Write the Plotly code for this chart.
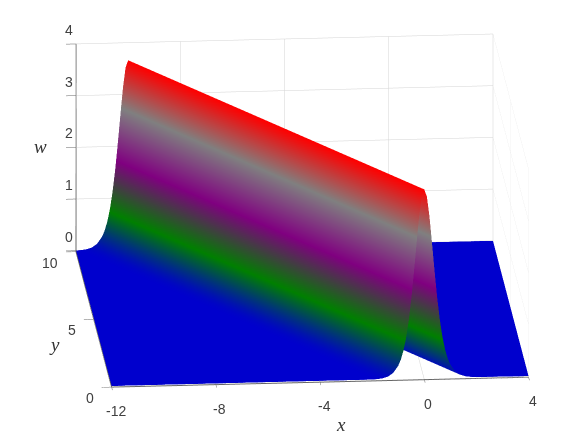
import plotly.graph_objects as go

# Ridge cross-section: offset from ridge line, height w
offsets = [-2.0, -1.8, -1.6, -1.4, -1.2, -1.0, -0.9, -0.8, -0.7, -0.6, -0.5, -0.4, -0.3, -0.2, -0.1, 0.0,
           0.1, 0.2, 0.3, 0.4, 0.5, 0.6, 0.7, 0.8, 0.9, 1.0, 1.2, 1.4, 1.6, 1.8, 2.0]
heights = [0.005, 0.011, 0.024, 0.054, 0.12, 0.26, 0.38, 0.55, 0.79, 1.12, 1.54, 2.05, 2.60, 3.13, 3.52, 3.66,
           3.52, 3.13, 2.60, 2.05, 1.54, 1.12, 0.79, 0.55, 0.38, 0.26, 0.12, 0.054, 0.024, 0.011, 0.005]
y_rows = [0, 1, 2, 3, 4, 5, 6, 7, 8, 9, 10]
ridge_x_at_row = [0, -1, -2, -3, -4, -5, -6, -7, -8, -9, -10]
x_min, x_max = -12, 4
x_ticks = [-12, -8, -4, 0, 4]
y_ticks = [0, 5, 10]
z_ticks = [0, 1, 2, 3, 4]

X = [[x_min] + [r + d for d in offsets] + [x_max] for r in ridge_x_at_row]
Y = [[yv] * (len(offsets) + 2) for yv in y_rows]
Z = [[0] + heights + [0] for _ in y_rows]

colorscale = [[0, "rgb(0,0,205)"], [0.2, "rgb(0,128,0)"], [0.47, "rgb(128,0,128)"],
              [0.75, "rgb(128,128,128)"], [1, "rgb(255,0,0)"]]

fig = go.Figure(go.Surface(x=X, y=Y, z=Z, surfacecolor=Z, colorscale=colorscale, cmin=0, cmax=3.66,
                           showscale=False,
                           lighting=dict(ambient=1, diffuse=0, specular=0, roughness=1, fresnel=0)))

def axis(ticks, rng, tick_side="outside"):
    return dict(title=dict(text=""), tickvals=ticks, range=rng, showticklabels=False,
                showgrid=True, gridcolor="#d4d4d4", gridwidth=1,
                showbackground=False, showline=True, linecolor="#666", linewidth=2,
                ticks=tick_side, ticklen=10, tickcolor="#666", tickwidth=1, zeroline=False, showspikes=False)

tick_font = dict(family="Liberation Sans", size=14, color="#404040")
title_font = dict(family="Liberation Serif", size=19, color="#333333")
notes = []
for t in x_ticks:
    notes.append(dict(x=t, y=0, z=0, text=str(t), showarrow=False, xshift=4, yshift=-25, font=tick_font))
for t in y_ticks:
    notes.append(dict(x=-12, y=t, z=0, text=str(t), showarrow=False, xanchor="right", xshift=-16, yshift=-12, font=tick_font))
for t in z_ticks:
    notes.append(dict(x=-12, y=10, z=t, text=str(t), showarrow=False, xshift=-7, yshift=14, font=tick_font))
notes.append(dict(x=-4, y=0, z=0, text="<i>x</i>", showarrow=False, xshift=21, yshift=-43, font=title_font))
notes.append(dict(x=-12, y=5, z=0, text="<i>y</i>", showarrow=False, xshift=-39, yshift=-26, font=title_font))
notes.append(dict(x=-12, y=10, z=2, text="<i>w</i>", showarrow=False, xshift=-35, yshift=1, font=title_font))

fig.update_layout(
    width=584, height=438, margin=dict(l=0, r=0, t=0, b=0),
    paper_bgcolor="white",
    scene=dict(
        xaxis=axis(x_ticks, [-12, 4], "inside"),
        yaxis=axis(y_ticks, [0, 10]),
        zaxis=axis(z_ticks, [-0.02, 4]),
        aspectmode="manual", aspectratio=dict(x=1.91, y=2.06, z=0.995),
        camera=dict(projection=dict(type="orthographic"),
                    eye=dict(x=-0.2295, y=-2.766, z=0.7975), up=dict(x=0, y=0, z=1),
                    center=dict(x=-0.0105, y=0, z=-0.0785)),
        annotations=notes,
    ),
)
fig.write_html("out.html")
